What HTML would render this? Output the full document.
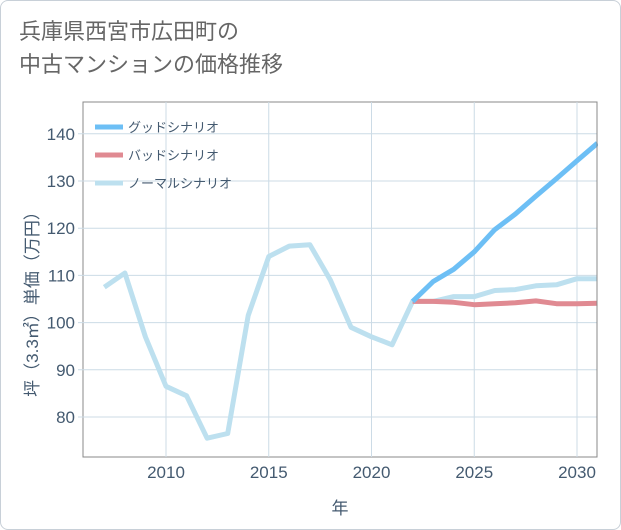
<!DOCTYPE html>
<html><head><meta charset="utf-8"><style>
body{margin:0;background:#fff;}
.wrap{position:relative;width:619px;height:528px;border:1px solid #c8d0d8;border-radius:8px;overflow:hidden;background:#fff;font-family:"Liberation Sans","Noto Sans CJK JP",sans-serif;}
.title{position:absolute;left:18px;top:14px;font-size:22px;line-height:33px;color:#666;}
</style></head><body>
<div class="wrap">
<div class="title">兵庫県西宮市広田町の<br>中古マンションの価格推移</div>
<svg id="chart" width="621" height="530" style="position:absolute;left:-1px;top:-1px"></svg>
</div>
<script>
const years=[2007,2008,2009,2010,2011,2012,2013,2014,2015,2016,2017,2018,2019,2020,2021,2022,2023,2024,2025,2026,2027,2028,2029,2030,2031];
const normalVals=[107.5,110.5,97,86.5,84.5,75.5,76.5,101.5,114,116.2,116.5,109,99,97,95.3,104.5,104.5,105.5,105.5,106.8,107,107.8,108,109.3,109.3];
const goodYears=[2022,2023,2024,2025,2026,2027,2028,2029,2030,2031];
const goodVals=[104.5,108.7,111.3,115,119.7,123,126.8,130.5,134.3,138];
const badVals=[104.5,104.5,104.3,103.8,104,104.2,104.6,104,104,104.1];
const xTicks=[2010,2015,2020,2025,2030];
const yTicks=[80,90,100,110,120,130,140];
const L=83,R=597,T=102,B=457;
const xs=y=>166+(y-2010)*20.55;
const ys=v=>417-(v-80)*4.72;
const svg=document.getElementById('chart');
const NS='http://www.w3.org/2000/svg';
function mk(tag,attrs){const e=document.createElementNS(NS,tag);for(const k in attrs)e.setAttribute(k,attrs[k]);svg.appendChild(e);return e;}
let e=mk('rect',{x:L,y:T,width:R-L,height:B-T,fill:'#fff',stroke:'#888','stroke-width':1});


xTicks.forEach(t=>{
 let g=mk('line',{x1:xs(t),x2:xs(t),y1:T,y2:B,stroke:'#ccdbe6','stroke-width':1});
 
 
 let tx=mk('text',{x:xs(t),y:B+21,'text-anchor':'middle','font-size':17,fill:'#445a70'});
 tx.textContent=t;
 
 
});
yTicks.forEach(t=>{
 let g=mk('line',{x1:L-5,x2:R,y1:ys(t),y2:ys(t),stroke:'#ccdbe6','stroke-width':1});
 
 
 let tx=mk('text',{x:L-8,y:ys(t)+6,'text-anchor':'end','font-size':17,fill:'#445a70'});
 tx.textContent=t;
 
 
});
function line(xv,yv,color,name){
 const p=xv.map((x,i)=>(i?'L':'M')+xs(x).toFixed(1)+','+ys(yv[i]).toFixed(1)).join('');
 let l=mk('path',{d:p,fill:'none',stroke:color,'stroke-width':5,'stroke-linejoin':'round'});
 
 
}
line(years,normalVals,'#bde0ef','normal-scenario-line');
line(goodYears,badVals,'#e08a92','bad-scenario-line');
line(goodYears,goodVals,'#6dbff5','good-scenario-line');
let cov=mk('rect',{x:R+1,y:T-5,width:30,height:B-T+10,fill:'#fff'});


let fr=mk('line',{x1:R,x2:R,y1:T,y2:B,stroke:'#888'});


const leg=[['グッドシナリオ','#6dbff5'],['バッドシナリオ','#e08a92'],['ノーマルシナリオ','#bde0ef']];
leg.forEach((d,i)=>{
 const y=127+i*28;
 let r=mk('line',{x1:95,x2:123,y1:y,y2:y,stroke:d[1],'stroke-width':5});
 
 
 let t=mk('text',{x:128,y:y+5,'font-size':13,fill:'#445a70'});
 t.textContent=d[0];
 
 
});
let xt=mk('text',{x:340,y:514,'text-anchor':'middle','font-size':17,fill:'#445a70'});
xt.textContent='年';


let yt=mk('text',{x:0,y:0,'text-anchor':'middle','font-size':17,fill:'#445a70',transform:'translate(38,300) rotate(-90)'});
yt.textContent='坪（3.3㎡）単価（万円）';


</script>
</body></html>
